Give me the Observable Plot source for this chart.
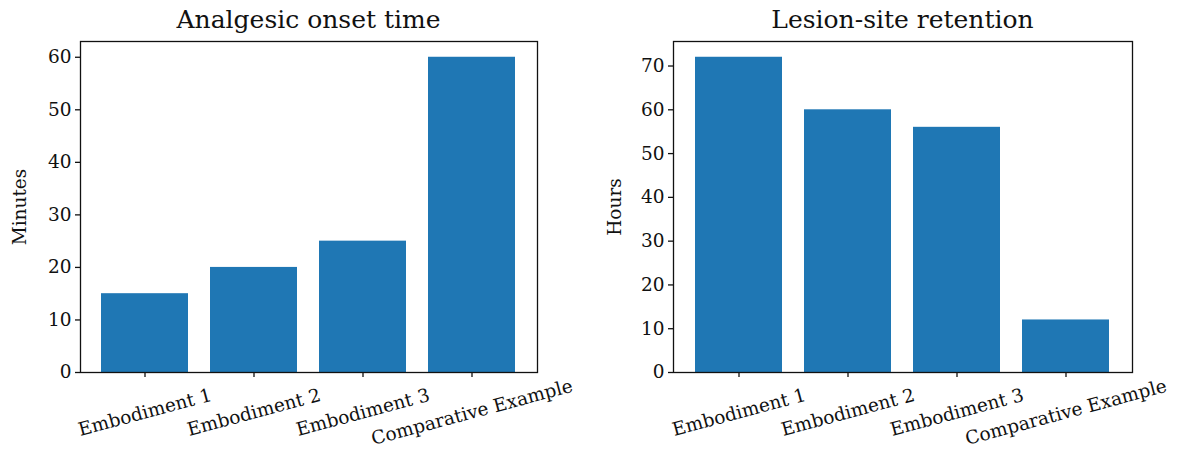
<!DOCTYPE html>
<html>
<head>
<meta charset="utf-8">
<script src="https://cdn.jsdelivr.net/npm/d3@7"></script>
<script src="https://cdn.jsdelivr.net/npm/@observablehq/plot@0.6"></script>
<style>
  html, body { margin: 0; padding: 0; background: #fff; }
  body { width: 1178px; height: 459px; position: relative; overflow: hidden; font-family: "DejaVu Serif", serif; }
  .panel { position: absolute; top: 0; width: 589px; height: 459px; }
  .title { position: absolute; top: 5px; font-size: 25px; line-height: 30px; color: #111; text-align: center; white-space: nowrap; transform: translateX(-50%); }
  .chart { position: absolute; top: 36px; left: 0; }
</style>
</head>
<body>
<div class="panel" id="p1" style="left:0"></div>
<div class="panel" id="p2" style="left:589px"></div>
<script>
const categories = ["Embodiment 1", "Embodiment 2", "Embodiment 3", "Comparative Example"];
const onsetMinutes = [15, 20, 25, 60];
const retentionHours = [72, 60, 56, 12];
const onsetTicks = [0, 10, 20, 30, 40, 50, 60];
const retentionTicks = [0, 10, 20, 30, 40, 50, 60, 70];

const panels = [
  {id: "p1", title: "Analgesic onset time", label: "Minutes", values: onsetMinutes, ticks: onsetTicks, ymax: 63, ml: 80, mr: 52, lo: 68},
  {id: "p2", title: "Lesion-site retention", label: "Hours", values: retentionHours, ticks: retentionTicks, ymax: 75.6, ml: 84, mr: 46, lo: 66}
];

for (const p of panels) {
  const data = categories.map((c, i) => ({category: c, value: p.values[i]}));
  const chart = Plot.plot({
    width: 589,
    height: 423,
    marginTop: 5,
    marginBottom: 87,
    marginLeft: p.ml,
    marginRight: p.mr,
    style: {fontFamily: "DejaVu Serif", fontSize: "18.5px", color: "#111", background: "white"},
    x: {domain: categories, paddingInner: 0.2, paddingOuter: 0.19},
    y: {domain: [0, p.ymax]},
    marks: [
      Plot.barY(data, {x: "category", y: "value", fill: "#1f77b4"}),
      Plot.frame({stroke: "#111", strokeWidth: 1.3}),
      Plot.axisY({ticks: p.ticks, tickSize: 5, tickPadding: 4, strokeWidth: 1.3, label: p.label, labelAnchor: "center", labelArrow: "none", labelOffset: p.lo, fontSize: 18.5}),
      Plot.axisX({tickSize: 5, strokeWidth: 1.3, tickRotate: -15, textAnchor: "middle", lineAnchor: "middle", tickPadding: 35, fontSize: 18.5, label: null})
    ]
  });
  chart.setAttribute("class", "chart");
  const el = document.getElementById(p.id);
  el.appendChild(chart);
  const t = document.createElement("div");
  t.className = "title";
  t.textContent = p.title;
  t.style.left = (p.ml + (589 - p.ml - p.mr) / 2) + "px";
  el.appendChild(t);
}
</script>
</body>
</html>
